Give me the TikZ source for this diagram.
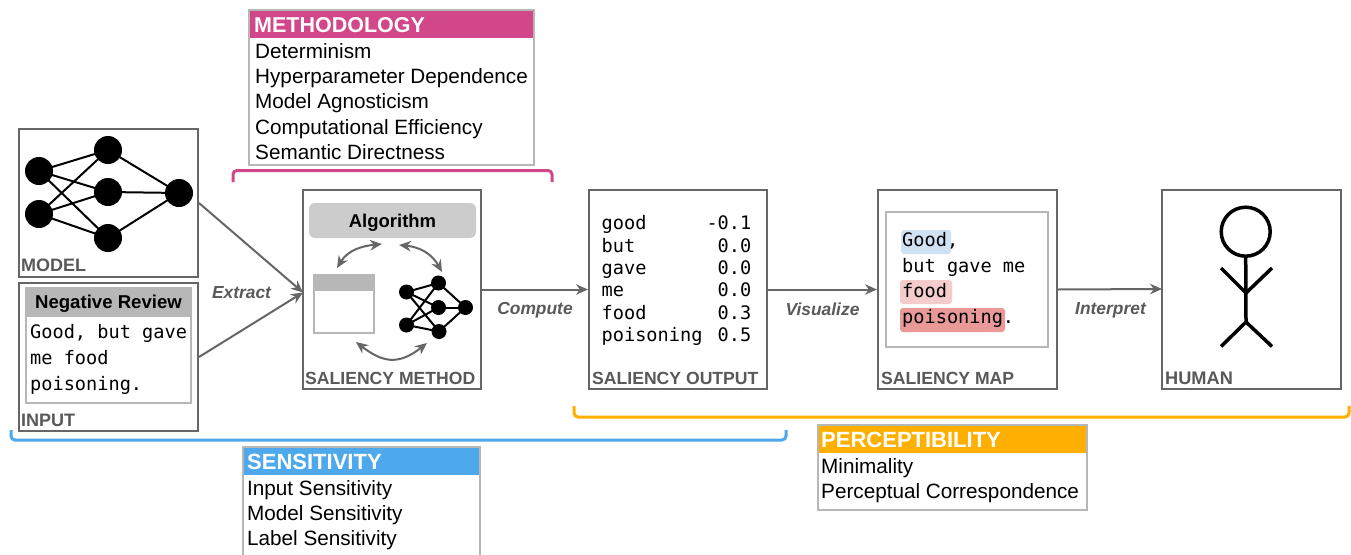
\documentclass[tikz,border=0pt]{standalone}
\usepackage{fontspec}
\setmainfont{Liberation Sans}
\setmonofont{DejaVu Sans Mono}
\usetikzlibrary{arrows.meta}
\definecolor{frameg}{HTML}{666666}
\definecolor{lightg}{HTML}{B7B7B7}
\definecolor{algog}{HTML}{CCCCCC}
\definecolor{labg}{HTML}{595959}
\definecolor{pinkc}{HTML}{D1478A}
\definecolor{bluec}{HTML}{4EA8EC}
\definecolor{orangec}{HTML}{FFAF00}
\definecolor{hlblue}{HTML}{CFE2F3}
\definecolor{hlpink}{HTML}{F4CCCC}
\definecolor{hlred}{HTML}{EA9999}
\newcommand{\fs}[1]{\fontsize{#1}{#1}\selectfont}
\tikzset{
 x=1pt,y=-1pt,
 framebox/.style={draw=frameg,line width=2pt,inner sep=0pt,fill=white},
 panel/.style={draw=lightg,line width=2pt,inner sep=0pt},
 flow/.style={draw=frameg,line width=2pt,-{Stealth[length=12pt,width=10.5pt]}},
 biflow/.style={draw=frameg,line width=2pt,{Stealth[length=12pt,width=10.5pt]}-{Stealth[length=12pt,width=10.5pt]}},
 caption/.style={font=\fs{17.6}\bfseries,text=labg,inner sep=0pt,anchor=base west},
 verb/.style={font=\fs{17.4}\bfseries\itshape,text=labg,inner sep=0pt},
 mono/.style={font=\ttfamily\fs{18.6},inner sep=0pt,anchor=base west},
 monoe/.style={font=\ttfamily\fs{18.6},inner sep=0pt,anchor=base east},
 item/.style={font=\fs{20.7},inner sep=0pt,anchor=base west},
 head/.style={font=\fs{22}\bfseries,text=white,inner sep=0pt,anchor=base west},
 neuron/.style={circle,fill=black,inner sep=0pt,minimum size=28pt},
 sneuron/.style={circle,fill=black,inner sep=0pt,minimum size=15pt},
 wire/.style={draw=black,line width=2pt},
 swire/.style={draw=black,line width=2pt},
 bracket/.style={line width=3pt,rounded corners=4pt},
 stick/.style={draw=black,line width=3.5pt},
 hl/.style={rounded corners=3pt,inner sep=0pt},
}
\begin{document}
\begin{tikzpicture}
\clip (0,0) rectangle (1351,554);
\useasboundingbox (0,0) rectangle (1351,554);
% main frames
\node[framebox,minimum width=179pt,minimum height=148pt] (model) at (108.5,203) {};
\node[framebox,minimum width=179pt,minimum height=148pt] (input) at (108.5,357) {};
\node[framebox,minimum width=178pt,minimum height=199pt] (method) at (392,289.5) {};
\node[framebox,minimum width=178pt,minimum height=199pt] (output) at (678,289.5) {};
\node[framebox,minimum width=179pt,minimum height=199pt] (smap) at (967.5,289.5) {};
\node[framebox,minimum width=179pt,minimum height=199pt] (human) at (1251.5,289.5) {};
\node[caption,font=\fs{18}\bfseries] (lmodel) at (21,271) {MODEL};
\node[caption,font=\fs{18}\bfseries] (linput) at (21,426) {INPUT};
\node[caption] (lmethod) at (305,384) {SALIENCY METHOD};
\node[caption] (loutput) at (592,384) {SALIENCY OUTPUT};
\node[caption] (lmap) at (881,384) {SALIENCY MAP};
\node[caption,font=\fs{18.2}\bfseries] (lhuman) at (1165,384) {HUMAN};
% model network
\foreach \n/\x/\y in {a/39/171,b/39/214,c/108/150,d/108/192,e/108/238,f/179/193}
  \node[neuron] (\n) at (\x,\y) {};
\foreach \u in {a,b}\foreach \v in {c,d,e}\draw[wire] (\u.center) -- (\v.center);
\foreach \v in {c,d,e}\draw[wire] (\v.center) -- (f.center);
% input panel
\fill[lightg] (26,288) rectangle (191,317);
\node[panel,minimum width=165pt,minimum height=115pt] (ipanel) at (108.5,345.5) {};
\node[font=\fs{18.6}\bfseries,inner sep=0pt] (ihead) at (108.5,304) {Negative Review};
\node[mono] (i1) at (30,338) {Good, but gave};
\node[mono] (i2) at (30,364) {me food};
\node[mono] (i3) at (30,390) {poisoning.};
% method contents
\node[fill=algog,rounded corners=6pt,minimum width=167pt,minimum height=35pt,inner sep=0pt] (algo) at (392.5,220.5) {};
\node[font=\fs{18.5}\bfseries,inner sep=0pt] (algot) at (392.5,223) {Algorithm};
\fill[lightg] (314,275) rectangle (374,291);
\node[draw=lightg,line width=1.5pt,inner sep=0pt,minimum width=60pt,minimum height=58pt] (table) at (344,304) {};
\foreach \n/\x/\y in {p/406.5/292,q/406.5/325,r/438.5/283,s/438.5/307.5,t/439/331.5,u/465.5/307.5}
  \node[sneuron] (\n) at (\x,\y) {};
\foreach \u in {p,q}\foreach \v in {r,s,t}\draw[swire] (\u.center) -- (\v.center);
\foreach \v in {r,s,t}\draw[swire] (\v.center) -- (u.center);
\coordinate (c1) at (337,268);
\coordinate (c2) at (382,244);
\coordinate (c3) at (399,245);
\coordinate (c4) at (442,272);
\coordinate (c5) at (356,342);
\coordinate (c6) at (427,343);
\draw[biflow] (c1) .. controls (348,250) and (362,246) .. (c2);
\draw[biflow] (c3) .. controls (420,247) and (432,254) .. (c4);
\draw[biflow] (c5) .. controls (382,362) and (398,366) .. (c6);
% output contents
\foreach \w/\v/\y/\k in {good/-0.1/229/1,but/0.0/252/2,gave/0.0/274/3,me/0.0/296/4,food/0.3/319/5,poisoning/0.5/341/6}{
  \node[mono] (ow\k) at (601.5,\y) {\w};
  \node[monoe] (ov\k) at (751.5,\y) {\v};
}
% map contents
\node[panel,minimum width=162pt,minimum height=135pt,line width=1.5pt] (mpanel) at (967,279.5) {};
\fill[hlblue,rounded corners=3pt] (901,230) rectangle (951,254);
\fill[hlpink,rounded corners=3pt] (900,280) rectangle (952,304);
\fill[hlred,rounded corners=3pt] (900,308) rectangle (1005,332);
\node[mono] (m1) at (902,246) {Good,};
\node[mono] (m2) at (902,272) {but gave me};
\node[mono] (m3) at (902,297) {food};
\node[mono] (m4) at (902,323) {poisoning.};
% stick figure
\node[circle,draw=black,line width=3.5pt,minimum size=49pt,inner sep=0pt] (shead) at (1245.7,231.7) {};
\coordinate (neck) at (1246,293);
\coordinate (hip) at (1246,322);
\draw[stick] (shead.south) -- (hip);
\draw[stick] (1221,268) -- (neck) -- (1272,268);
\draw[stick] (1221,346.5) -- (hip) -- (1272,346.5);
% connectors
\coordinate (mIn) at (303,292.5);
\coordinate (ohIn) at (1162,289);
\draw[flow] (model.east) -- (mIn);
\draw[flow] (input.east) -- (mIn);
\draw[flow] (method.east) -- (output.west);
\draw[flow] (output.east) -- (smap.west);
\draw[flow] (smap.east) -- (ohIn);
\node[verb] (vextract) at (241.5,292.5) {Extract};
\node[verb] (vcompute) at (535,310) {Compute};
\node[verb] (vvisual) at (822.5,309.5) {Visualize};
\node[verb] (vinterp) at (1110.5,310) {Interpret};
% brackets
\coordinate (p1) at (233,182); \coordinate (p2) at (552,182);
\draw[bracket,pinkc] (p1) -- (233,170.5) -- (552,170.5) -- (p2);
\coordinate (b1) at (11,430); \coordinate (b2) at (786,430);
\draw[bracket,bluec] (b1) -- (11,440) -- (786,440) -- (b2);
\coordinate (o1) at (574,406); \coordinate (o2) at (1349,406);
\draw[bracket,orangec] (o1) -- (574,417) -- (1349,417) -- (o2);
% legend boxes
\fill[pinkc] (249,10) rectangle (534,38);
\node[panel,minimum width=285pt,minimum height=155pt] (mbox) at (391.5,87.5) {};
\node[head,font=\fs{21.5}\bfseries] (mh) at (254,32) {METHODOLOGY};
\node[item] (m01) at (255,58) {Determinism};
\node[item] (m02) at (255,83) {Hyperparameter Dependence};
\node[item] (m03) at (255,108) {Model Agnosticism};
\node[item] (m04) at (255,134) {Computational Efficiency};
\node[item] (m05) at (255,159) {Semantic Directness};
\fill[bluec] (243,447) rectangle (480,475);
\node[panel,minimum width=237pt,minimum height=125pt] (sbox) at (361.5,509.5) {};
\node[head] (sh) at (247,469) {SENSITIVITY};
\node[item] (s1) at (247,495) {Input Sensitivity};
\node[item] (s2) at (247,520) {Model Sensitivity};
\node[item] (s3) at (247,545) {Label Sensitivity};
\fill[orangec] (818,425) rectangle (1087,453);
\node[panel,minimum width=269pt,minimum height=85pt] (pbox) at (952.5,467.5) {};
\node[head] (ph) at (821,447) {PERCEPTIBILITY};
\node[item] (p01) at (821,473) {Minimality};
\node[item] (p02) at (821,498) {Perceptual Correspondence};
\end{tikzpicture}
\end{document}
